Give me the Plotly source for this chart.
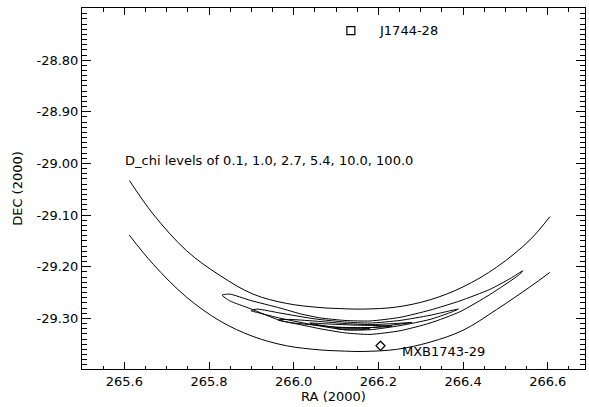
import plotly.graph_objects as go

# D_chi = 100 contour: two open branches (RA, DEC)
arc_upper_ra = [265.612, 265.668, 265.747, 265.826, 265.904, 265.983, 266.062, 266.109,
                266.164, 266.243, 266.322, 266.400, 266.479, 266.558, 266.605]
arc_upper_dec = [-29.033, -29.098, -29.169, -29.217, -29.253, -29.271, -29.279, -29.281,
                 -29.282, -29.278, -29.264, -29.239, -29.201, -29.148, -29.103]
arc_lower_ra = [265.612, 265.668, 265.747, 265.826, 265.904, 265.983, 266.062, 266.109,
                266.164, 266.243, 266.322, 266.400, 266.479, 266.558, 266.605]
arc_lower_dec = [-29.139, -29.195, -29.259, -29.305, -29.335, -29.353, -29.361, -29.363,
                 -29.364, -29.360, -29.346, -29.323, -29.283, -29.239, -29.211]

# D_chi = 10 (closed)
c10_ra = [265.831, 265.849, 265.897, 265.968, 266.015, 266.062, 266.121, 266.180, 266.251,
          266.322, 266.393, 266.463, 266.511, 266.541, 266.530, 266.463, 266.393, 266.322,
          266.251, 266.180, 266.121, 266.062, 266.015, 265.968, 265.897, 265.849, 265.831]
c10_dec = [-29.255, -29.253, -29.265, -29.280, -29.291, -29.299, -29.304, -29.305, -29.298,
           -29.284, -29.266, -29.244, -29.223, -29.208, -29.217, -29.254, -29.287, -29.309,
           -29.324, -29.331, -29.328, -29.320, -29.312, -29.304, -29.281, -29.266, -29.255]

# D_chi = 5.4 (closed)
c54_ra = [265.899, 265.913, 265.970, 266.050, 266.121, 266.180, 266.251, 266.322, 266.389,
          266.369, 266.322, 266.251, 266.180, 266.121, 266.050, 265.970, 265.916, 265.899]
c54_dec = [-29.285, -29.282, -29.290, -29.301, -29.307, -29.309, -29.304, -29.294, -29.282,
           -29.289, -29.302, -29.314, -29.322, -29.322, -29.313, -29.300, -29.289, -29.285]

# D_chi = 2.7 (closed)
c27_ra = [265.963, 265.991, 266.062, 266.121, 266.180, 266.239, 266.279,
          266.251, 266.180, 266.121, 266.062, 265.991, 265.963]
c27_dec = [-29.303, -29.302, -29.306, -29.310, -29.312, -29.310, -29.308,
           -29.311, -29.318, -29.319, -29.314, -29.308, -29.303]

# D_chi = 1.0 (closed)
c10b_ra = [266.038, 266.086, 266.145, 266.204, 266.232, 266.204, 266.145, 266.086, 266.038]
c10b_dec = [-29.309, -29.311, -29.313, -29.314, -29.315, -29.317, -29.318, -29.316, -29.309]

# D_chi = 0.1 (closed)
c01_ra = [266.097, 266.128, 266.161, 266.180, 266.156, 266.121, 266.097]
c01_dec = [-29.319, -29.318, -29.319, -29.320, -29.322, -29.322, -29.319]

# Sources
src_names = ["J1744-28", "MXB1743-29"]
src_ra = [266.135, 266.205]
src_dec = [-28.743, -29.353]
label_ra = [266.197, 266.251]
label_dec = [-28.743, -29.365]

levels_text = "D_chi levels of 0.1, 1.0, 2.7, 5.4, 10.0, 100.0"
levels_pos = (265.597, -28.995)

x_ticks = [265.6, 265.8, 266.0, 266.2, 266.4, 266.6]
x_ticktext = ["265.6", "265.8", "266.0", "266.2", "266.4", "266.6"]
y_ticks = [-28.80, -28.90, -29.00, -29.10, -29.20, -29.30]
y_ticktext = ["-28.80", "-28.90", "-29.00", "-29.10", "-29.20", "-29.30"]

X_RANGE = [265.5, 266.688]
Y_RANGE = [-29.398, -28.699]

FONT = "DejaVu Sans"

fig = go.Figure()
for xs, ys in [(arc_upper_ra, arc_upper_dec), (arc_lower_ra, arc_lower_dec)]:
    fig.add_trace(go.Scatter(x=xs, y=ys, mode="lines",
                             line=dict(color="black", width=1, shape="spline", smoothing=1.0),
                             showlegend=False, hoverinfo="skip"))
for xs, ys in [(c10_ra, c10_dec), (c54_ra, c54_dec), (c27_ra, c27_dec), (c10b_ra, c10b_dec), (c01_ra, c01_dec)]:
    fig.add_trace(go.Scatter(x=xs, y=ys, mode="lines",
                             line=dict(color="black", width=1, shape="spline", smoothing=0.6),
                             showlegend=False, hoverinfo="skip"))

fig.add_trace(go.Scatter(x=[src_ra[0]], y=[src_dec[0]], mode="markers",
                         marker=dict(symbol="square-open", size=8, color="black",
                                     line=dict(width=1.2, color="black")),
                         showlegend=False))
fig.add_trace(go.Scatter(x=[src_ra[1]], y=[src_dec[1]], mode="markers",
                         marker=dict(symbol="diamond-open", size=7, color="black",
                                     line=dict(width=1.2, color="black")),
                         showlegend=False))
# empty trace to host the mirrored (top/right) axes
fig.add_trace(go.Scatter(x=[], y=[], xaxis="x2", yaxis="y2", showlegend=False, hoverinfo="skip"))

for name, lx, ly in zip(src_names, label_ra, label_dec):
    fig.add_annotation(x=lx, y=ly, text=name, showarrow=False, xanchor="left", yanchor="middle",
                       font=dict(family=FONT, size=13, color="black"))
fig.add_annotation(x=levels_pos[0], y=levels_pos[1], text=levels_text, showarrow=False,
                   xanchor="left", yanchor="middle", font=dict(family=FONT, size=13, color="black"))

axis_common = dict(showgrid=False, zeroline=False, showline=True, linecolor="black", linewidth=1,
                   ticks="inside", tickcolor="black", tickwidth=1,
                   tickfont=dict(family=FONT, size=13, color="black"), tickmode="array")
x_minor = dict(ticks="inside", dtick=0.05, tick0=265.5, ticklen=3.5, tickcolor="black", tickwidth=1)
y_minor = dict(ticks="inside", dtick=0.01, tick0=-29.4, ticklen=5, tickcolor="black", tickwidth=1)

fig.update_layout(
    width=589, height=407,
    margin=dict(l=82, r=4, t=8, b=38, autoexpand=False),
    plot_bgcolor="white", paper_bgcolor="white",
    font=dict(family=FONT, size=13, color="black"),
    xaxis=dict(range=X_RANGE, tickvals=x_ticks, ticktext=x_ticktext, ticklen=7, minor=x_minor,
               title=dict(text="RA (2000)", font=dict(family=FONT, size=13, color="black"), standoff=2),
               **axis_common),
    yaxis=dict(range=Y_RANGE, tickvals=y_ticks, ticktext=y_ticktext, ticklen=9, minor=y_minor,
               title=dict(text="DEC (2000)", font=dict(family=FONT, size=13, color="black"), standoff=10),
               **axis_common),
    xaxis2=dict(range=X_RANGE, overlaying="x", side="top", tickvals=x_ticks, ticklen=7, minor=x_minor,
                showticklabels=False, **{k: v for k, v in axis_common.items() if k != "tickfont"}),
    yaxis2=dict(range=Y_RANGE, overlaying="y", side="right", tickvals=y_ticks, ticklen=9, minor=y_minor,
                showticklabels=False, **{k: v for k, v in axis_common.items() if k != "tickfont"}),
)

fig.write_html("out.html")
